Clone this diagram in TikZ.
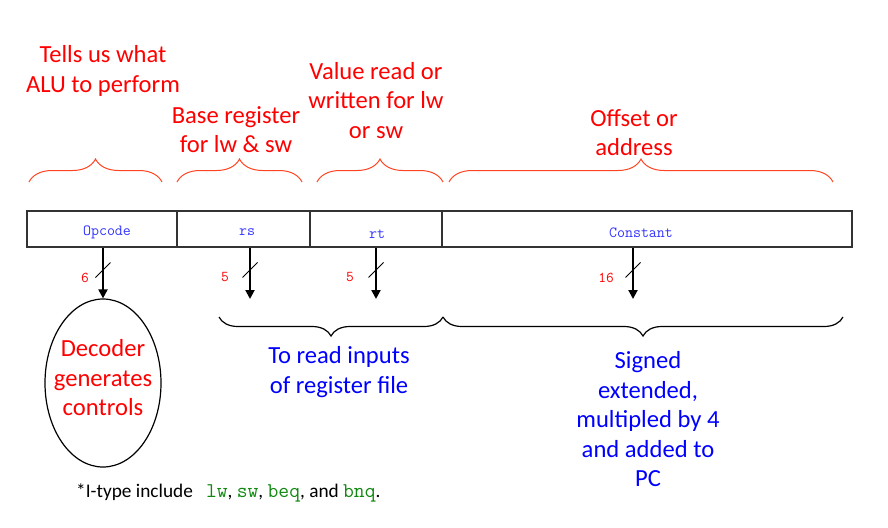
\documentclass[tikz,border=0pt]{standalone}
\usepackage{fontspec}
\setmainfont{Carlito}
\usetikzlibrary{decorations.pathreplacing,arrows.meta,shapes.geometric}
\definecolor{tred}{HTML}{FF0000}
\definecolor{bred}{HTML}{FF4422}
\definecolor{tblue}{HTML}{0000FF}
\definecolor{fblue}{HTML}{3333FF}
\definecolor{cgreen}{HTML}{118811}
\begin{document}
\begin{tikzpicture}[x=1pt,y=-1pt,
  field/.style={draw=black!80, line width=1.2pt, minimum height=36pt, inner sep=0pt},
  flabel/.style={font=\fontsize{15.5}{17}\selectfont\ttfamily, text=fblue, inner sep=0pt},
  big/.style={font=\fontsize{24.6}{29.5}\selectfont, align=center, inner sep=0pt},
  redtxt/.style={big, text=tred},
  bluetxt/.style={big, text=tblue},
  rbrace/.style={draw=bred, line width=1pt, decorate, decoration={brace, amplitude=23pt}},
  kbrace/.style={draw=black, line width=1.2pt, decorate, decoration={brace, amplitude=19pt}},
  arr/.style={line width=2pt, -{Triangle[length=9pt,width=9pt]}},
  slash/.style={line width=0.8pt},
  num/.style={font=\fontsize{15}{17}\selectfont\ttfamily, text=tred, inner sep=0pt},
]
\useasboundingbox (0,0) rectangle (888,527);

% red annotations
\node[redtxt] (t1) at (103,71) {Tells us what\\ALU to perform};
\node[redtxt] (t2) at (236,129.5) {Base register\\for lw \& sw};
\node[redtxt] (t3) at (376,100.5) {Value read or\\written for lw\\or sw};
\node[redtxt] (t4) at (634,132.5) {Offset or\\address};

% red braces
\coordinate (b1l) at (29,182);  \coordinate (b1r) at (162,182);
\coordinate (b2l) at (177,182); \coordinate (b2r) at (302,182);
\coordinate (b3l) at (317,182); \coordinate (b3r) at (443,182);
\coordinate (b4l) at (449,182); \coordinate (b4r) at (833,182);
\draw[rbrace] (b1l) -- (b1r);
\draw[rbrace] (b2l) -- (b2r);
\draw[rbrace] (b3l) -- (b3r);
\draw[rbrace] (b4l) -- (b4r);

% instruction fields
\node[field, minimum width=150pt] (op) at (102,229) {};
\node[field, minimum width=133pt] (rs) at (243.5,229) {};
\node[field, minimum width=132pt] (rt) at (376,229) {};
\node[field, minimum width=410pt] (cst) at (647,229) {};
\node[flabel] (lop) at (107,232) {Opcode};
\node[flabel] (lrs) at (247,232) {rs};
\node[flabel] (lrt) at (377,234) {rt};
\node[flabel] (lcst) at (641,233) {Constant};

% decoder
\node[draw, line width=1.2pt, ellipse, minimum width=116pt, minimum height=168pt, inner sep=0pt] (dec) at (103,383) {};
\node[redtxt] (dect) at (103,378) {Decoder\\generates\\controls};

% arrows
\coordinate (a1) at (103,247.5);
\coordinate (a2) at (250,247.5);  \coordinate (e2) at (250,299);
\coordinate (a3) at (376,247.5);  \coordinate (e3) at (376,299);
\coordinate (a4) at (633,247.5);  \coordinate (e4) at (633,299);
\draw[arr] (a1) -- (dec.north);
\draw[arr] (a2) -- (e2);
\draw[arr] (a3) -- (e3);
\draw[arr] (a4) -- (e4);
\draw[slash] ([shift={(-7.5,30)}]a1) -- ([shift={(7.5,15)}]a1);
\draw[slash] ([shift={(-7.5,30)}]a2) -- ([shift={(7.5,15)}]a2);
\draw[slash] ([shift={(-7.5,30)}]a3) -- ([shift={(7.5,15)}]a3);
\draw[slash] ([shift={(-7.5,30)}]a4) -- ([shift={(7.5,15)}]a4);
\node[num] (n1) at ([shift={(-18,30)}]a1) {6};
\node[num] (n2) at ([shift={(-25,30)}]a2) {5};
\node[num] (n3) at ([shift={(-26,30)}]a3) {5};
\node[num] (n4) at ([shift={(-27,30)}]a4) {16};

% black braces
\coordinate (k1l) at (219,317); \coordinate (k1r) at (443,317);
\coordinate (k2l) at (443,317); \coordinate (k2r) at (843,317);
\draw[kbrace] (k1r) -- (k1l);
\draw[kbrace] (k2r) -- (k2l);

% blue annotations
\node[bluetxt] (u1) at (339,372) {To read inputs\\of register file};
\node[bluetxt] (u2) at (648,419.5) {Signed\\extended,\\multipled by 4\\and added to\\PC};

% footnote
\node[anchor=west, inner sep=0pt, font=\fontsize{19.3}{22}\selectfont] (fn) at (76,493)
  {*I-type include\ \ \ {\fontsize{21}{22}\selectfont\ttfamily\color{cgreen}lw}, {\fontsize{21}{22}\selectfont\ttfamily\color{cgreen}sw}, {\fontsize{21}{22}\selectfont\ttfamily\color{cgreen}beq}, and {\fontsize{21}{22}\selectfont\ttfamily\color{cgreen}bnq}.};
\end{tikzpicture}
\end{document}
